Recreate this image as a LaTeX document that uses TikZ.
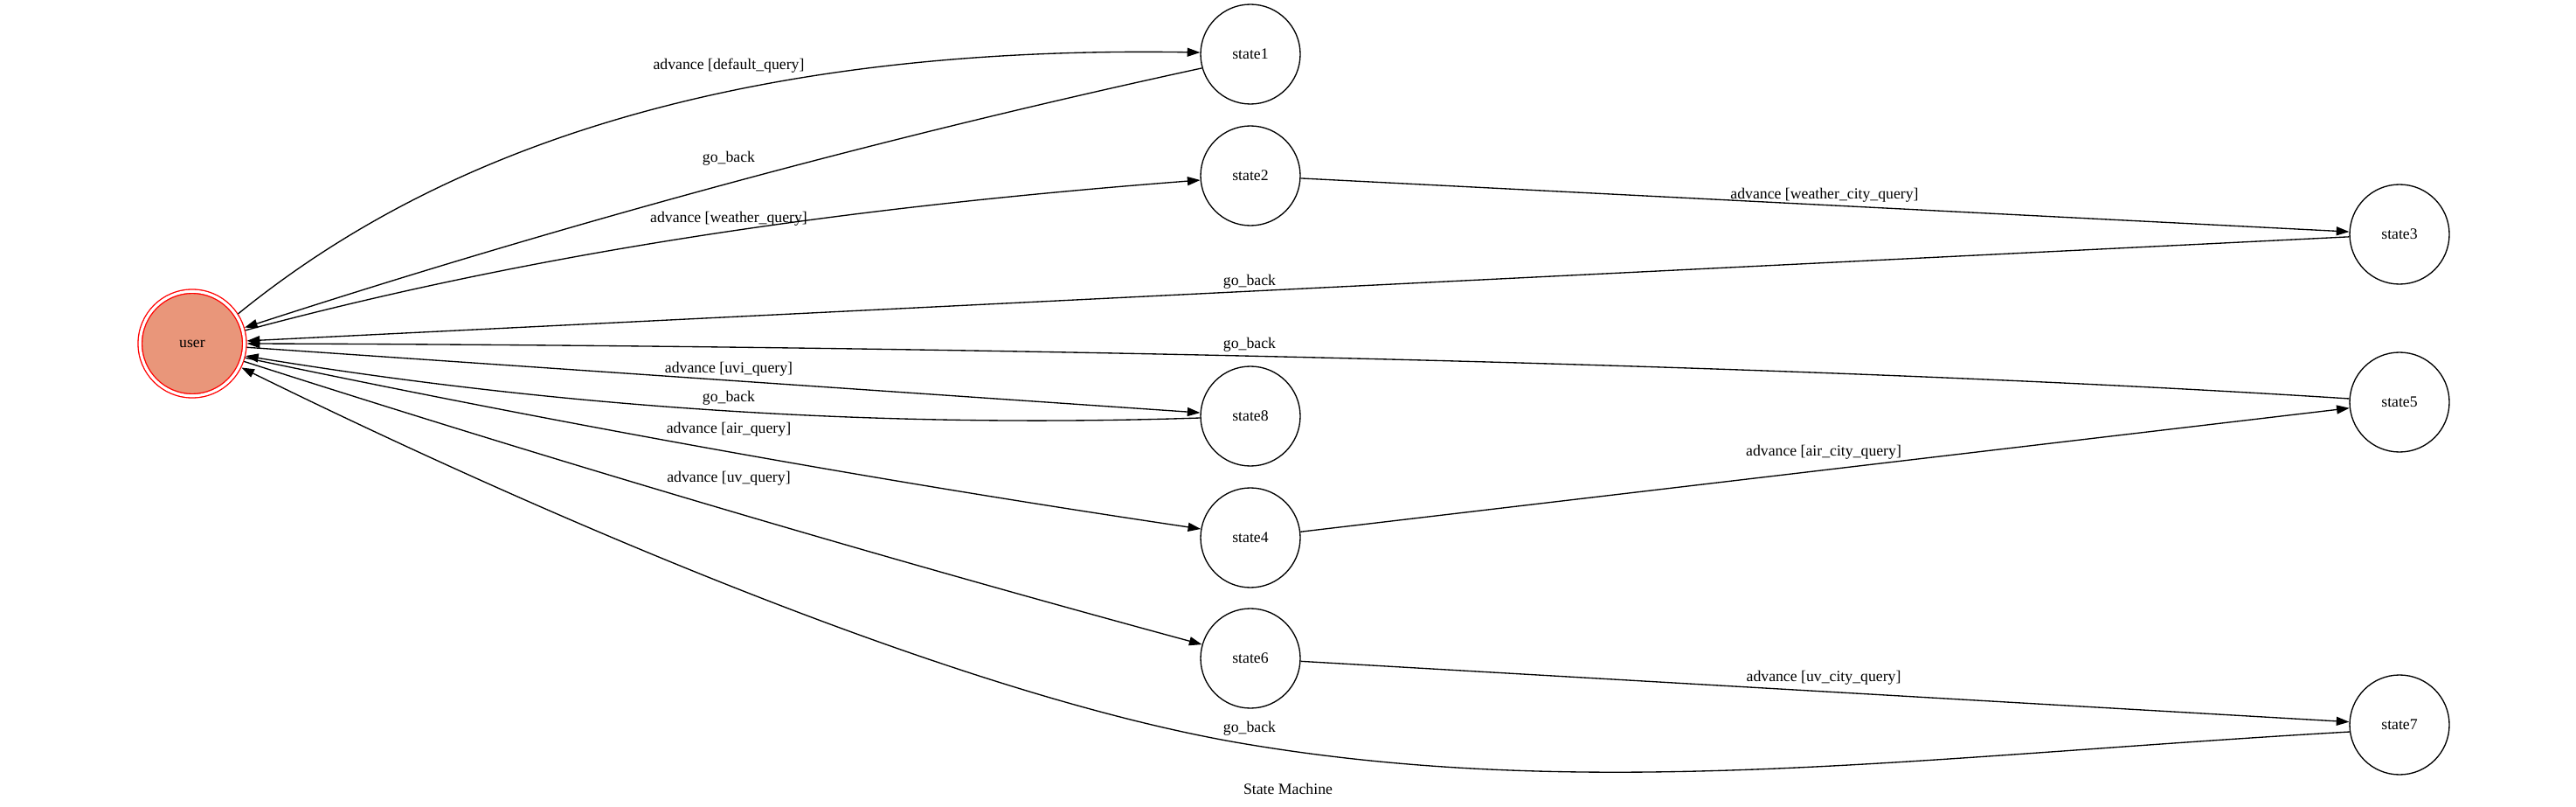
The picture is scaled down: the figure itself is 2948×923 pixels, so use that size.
\documentclass[tikz,border=0pt]{standalone}
\usepackage{fontspec}
\setmainfont{Liberation Serif}
\usetikzlibrary{arrows.meta}
\definecolor{usrfill}{HTML}{E9967A}
\begin{document}
\begin{tikzpicture}[x=0.75pt,y=-0.75pt,
  stnode/.style={circle,draw,line width=1pt,minimum size=85.5pt,inner sep=0pt,font=\fontsize{13.3}{16}\selectfont},
  initnode/.style={circle,draw=red,line width=1pt,double,double distance=2.4pt,fill=usrfill,minimum size=89.6pt,inner sep=0pt,outer sep=2.2pt,font=\fontsize{13.3}{16}\selectfont},
  conn/.style={line width=1pt,-{Triangle[length=11pt,width=7.5pt]}},
  lbl/.style={font=\fontsize{13.3}{16}\selectfont,inner sep=0pt}
]
\useasboundingbox (0,0) rectangle (2948,923);

\node[initnode] (user) at (220,393) {user};
\node[stnode] (s1) at (1431,62) {state1};
\node[stnode] (s2) at (1431,201) {state2};
\node[stnode] (s8) at (1431,476) {state8};
\node[stnode] (s4) at (1431,615) {state4};
\node[stnode] (s6) at (1431,753) {state6};
\node[stnode] (s3) at (2746,268) {state3};
\node[stnode] (s5) at (2746,460) {state5};
\node[stnode] (s7) at (2746,829) {state7};

\draw[conn] (user.33) .. controls (450,215) and (760,50) .. (s1.178);
\draw[conn] (s1.196) .. controls (1010,157) and (646,256) .. (user.17);
\draw[conn] (user.14) .. controls (646,280) and (1010,234) .. (s2.185);
\draw[conn] (s2) -- (s3);
\draw[conn] (s3) -- (user);
\draw[conn] (s5.176) .. controls (2000,412) and (1000,395) .. (user.0);
\draw[conn] (user) -- (s8);
\draw[conn] (s8.182) .. controls (1010,490) and (646,467) .. (user.-13);
\draw[conn] (user.-15) .. controls (646,486) and (1011,551) .. (s4.170);
\draw[conn] (s4) -- (s5);
\draw[conn] (user.-19) .. controls (646,531) and (1010,638) .. (s6.164);
\draw[conn] (s6) -- (s7);
\draw[conn] (s7.188) .. controls (2200,865) and (1820,918) .. (1420,850) .. controls (1070,790) and (560,560) .. (user.-26);

\node[lbl] (l1) at (834,75) {advance [default\_query]};
\node[lbl] (l2) at (834,181) {go\_back};
\node[lbl] (l3) at (834,250) {advance [weather\_query]};
\node[lbl] (l4) at (2088,223) {advance [weather\_city\_query]};
\node[lbl] (l5) at (1430,322) {go\_back};
\node[lbl] (l6) at (1430,394) {go\_back};
\node[lbl] (l7) at (834,422) {advance [uvi\_query]};
\node[lbl] (l8) at (834,455) {go\_back};
\node[lbl] (l9) at (834,491) {advance [air\_query]};
\node[lbl] (l10) at (2087,517) {advance [air\_city\_query]};
\node[lbl] (l11) at (834,547) {advance [uv\_query]};
\node[lbl] (l12) at (1430,833) {go\_back};
\node[lbl] (l13) at (2087,775) {advance [uv\_city\_query]};
\node[lbl] (title) at (1474,902) {State Machine};
\end{tikzpicture}
\end{document}
